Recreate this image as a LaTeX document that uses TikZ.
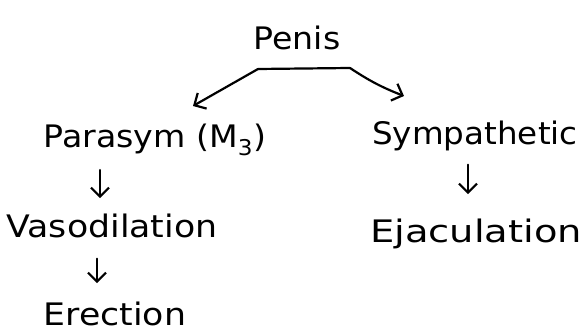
\documentclass[tikz,border=0pt]{standalone}
\usepackage{fontspec}
\setmainfont{DejaVu Sans}
\usetikzlibrary{arrows.meta}
\begin{document}
\begin{tikzpicture}[x=1pt,y=-1pt,
  lbl/.style={inner sep=0pt, anchor=base, font=\fontsize{31}{33}\selectfont},
  pen/.style={line width=2.2pt, line cap=round, line join=round},
  arr/.style={pen, -{Straight Barb[length=9pt,width=18pt,line width=2.2pt]}}]
\useasboundingbox (0,0) rectangle (584,336);
\fill[white] (0,0) rectangle (584,336);
% labels
\node[lbl] (penis) at (297,50) {\scalebox{1.07}[1]{Penis}};
\node[lbl] (para)  at (155,148) {\scalebox{1.07}[1]{Parasym (M\textsubscript{3})}};
\node[lbl] (vaso)  at (112,238) {\scalebox{1.12}[1]{Vasodilation}};
\node[lbl] (erec)  at (115,326) {\scalebox{1.12}[1]{Erection}};
\node[lbl] (symp)  at (475,145) {\scalebox{1.05}[1]{Sympathetic}};
\node[lbl] (ejac)  at (476,243) {\scalebox{1.24}[1]{Ejaculation}};
% branching connector
\coordinate (bl) at (258,69);
\coordinate (br) at (350,68);
\coordinate (tl) at (193,106);
\coordinate (tr) at (404,96);
\draw[pen] (bl) -- (br);
\draw[arr] (bl) -- (tl);
\draw[arr] (br) to[bend right=6] (tr);
% vertical arrows
\coordinate (x1) at (100,0);
\coordinate (x2) at (97,0);
\coordinate (x3) at (468,0);
\draw[arr, shorten <=14pt, shorten >=16pt] (x1 |- para.south) -- (x1 |- vaso.north);
\draw[arr, shorten <=20pt, shorten >=19pt] (x2 |- vaso.south) -- (x2 |- erec.north);
\draw[arr, shorten <=13pt, shorten >=25pt] (x3 |- symp.south) -- (x3 |- ejac.north);
\end{tikzpicture}
\end{document}
